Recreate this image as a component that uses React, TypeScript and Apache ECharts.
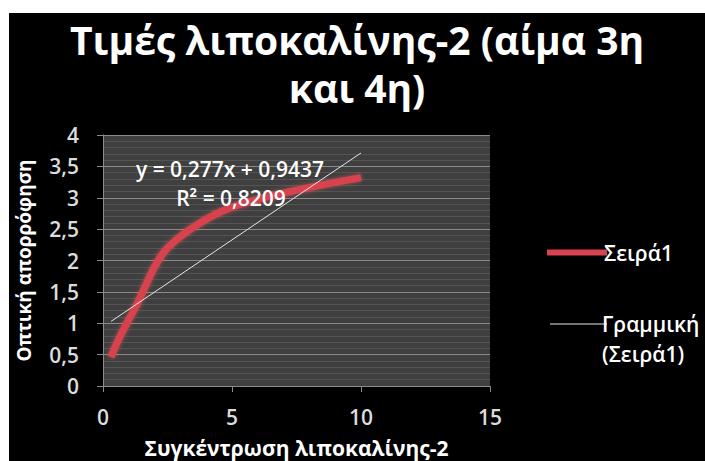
import React, { useEffect, useRef } from "react";
import * as echarts from "echarts";

const titleLines = ["Τιμές λιποκαλίνης-2 (αίμα 3η", "και 4η)"];
const xName = "Συγκέντρωση λιποκαλίνης-2";
const yName = "Οπτική απορρόφηση";
const seriesName = "Σειρά1";
const trendName = "Γραμμική (Σειρά1)";
const concentrations = [0.3125, 0.625, 1.25, 2.5, 5, 10];
const absorbance = [0.46, 0.76, 1.25, 2.2, 2.85, 3.32];
const slope = 0.277;
const intercept = 0.9437;
const rSquared = 0.8209;
const equationText = "y = 0,277x + 0,9437";
const r2Text = "R² = 0,8209";

export default function App() {
  const ref = useRef<HTMLDivElement>(null);
  useEffect(() => {
    if (!ref.current) return;
    const chart = echarts.init(ref.current, undefined, { renderer: "svg" });
    const pts = concentrations.map((x, i) => [x, absorbance[i]]);
    const xs = [concentrations[0], concentrations[concentrations.length - 1]];
    const trend = xs.map((x) => [x, slope * x + intercept]);
    const comma = (v: number) => String(v).replace(".", ",");
    const font = "'Open Sans', 'Noto Sans', sans-serif";
    const red = "#d8434f";
    const white = "#e6e6e6";
    const titleStyle = { color: "#ffffff", fontSize: 39, fontWeight: "bold", fontFamily: font };
    chart.setOption({
      animation: false,
      backgroundColor: "#000000",
      textStyle: { fontFamily: font },
      title: [
        { text: titleLines[0], left: "center", top: 2, textStyle: titleStyle },
        { text: titleLines[1], left: "center", top: 50, textStyle: titleStyle },
      ],
      grid: {
        left: 94,
        top: 122,
        width: 387,
        height: 251,
        show: true,
        backgroundColor: "#3f3f3f",
        borderWidth: 0,
        containLabel: false,
        outerBoundsMode: "none",
      },
      legend: [
        {
          left: 533,
          top: 224,
          itemWidth: 60,
          itemHeight: 14,
          textStyle: { color: "#ffffff", fontSize: 21, fontWeight: 600, fontFamily: font, padding: [0, 0, 0, -8] },
          data: [{ name: seriesName, icon: "path://M0,0H60V6H0Z", itemStyle: { color: red } }],
        },
        {
          left: 536,
          top: 261,
          itemWidth: 57,
          itemHeight: 14,
          formatter: (name: string) => " \n" + name.replace(" ", "\n"),
          textStyle: {
            color: "#ffffff",
            fontSize: 21,
            fontWeight: 600,
            fontFamily: font,
            lineHeight: 30,
            padding: [0, 0, 0, -10],
          },
          data: [{ name: trendName, icon: "path://M0,0H60V1.2H0Z", itemStyle: { color: white } }],
        },
      ],
      xAxis: {
        type: "value",
        min: 0,
        max: 15,
        interval: 5,
        name: xName,
        nameLocation: "middle",
        nameGap: 51,
        nameTextStyle: { color: "#ffffff", fontSize: 21, fontWeight: "bold", fontFamily: font },
        axisLine: { show: true, onZero: false, lineStyle: { color: "#8c8c8c", width: 1 } },
        axisTick: { show: true, length: 6, lineStyle: { color: "#8c8c8c" } },
        axisLabel: { color: "#dcdcdc", fontSize: 21, fontWeight: 600, margin: 20, fontFamily: font },
        splitLine: { show: false },
      },
      yAxis: {
        type: "value",
        min: 0,
        max: 4,
        interval: 0.5,
        name: yName,
        nameLocation: "middle",
        nameRotate: 90,
        nameGap: 70,
        nameTextStyle: { color: "#ffffff", fontSize: 19, fontWeight: "bold", fontFamily: font },
        axisLine: { show: true, lineStyle: { color: "#8c8c8c", width: 1 } },
        axisTick: { show: true, length: 6, lineStyle: { color: "#8c8c8c" } },
        axisLabel: { color: "#dcdcdc", fontSize: 21, fontWeight: 600, margin: 24, fontFamily: font, formatter: comma },
        splitLine: { show: true, lineStyle: { color: "#8a8a8a", width: 1 } },
        minorTick: { show: false, splitNumber: 5 },
        minorSplitLine: { show: true, lineStyle: { color: "#545454", width: 1 } },
      },
      series: [
        {
          name: seriesName,
          type: "line",
          data: pts,
          smooth: 0.3,
          showSymbol: false,
          symbol: "none",
          lineStyle: { color: red, width: 7, shadowBlur: 4, shadowColor: "rgba(255,90,90,0.6)" },
          itemStyle: { color: red },
          z: 3,
        },
        {
          name: trendName,
          type: "line",
          data: trend,
          showSymbol: false,
          symbol: "none",
          lineStyle: { color: white, width: 1 },
          itemStyle: { color: white },
          z: 4,
        },
      ],
      graphic: [
        {
          type: "text",
          x: 221,
          y: 156,
          z: 10,
          style: { text: equationText, fill: "#ffffff", fontSize: 21, fontWeight: 600, fontFamily: font, align: "center", verticalAlign: "middle" },
        },
        {
          type: "text",
          x: 222,
          y: 185,
          z: 10,
          style: { text: r2Text, fill: "#ffffff", fontSize: 21, fontWeight: 600, fontFamily: font, align: "center", verticalAlign: "middle" },
        },
      ],
    });
    return () => chart.dispose();
  }, []);
  return (
    <div
      ref={ref}
      style={{ position: "fixed", left: 9, top: 13, width: 696, height: 448 }}
      data-r2={rSquared}
    />
  );
}
